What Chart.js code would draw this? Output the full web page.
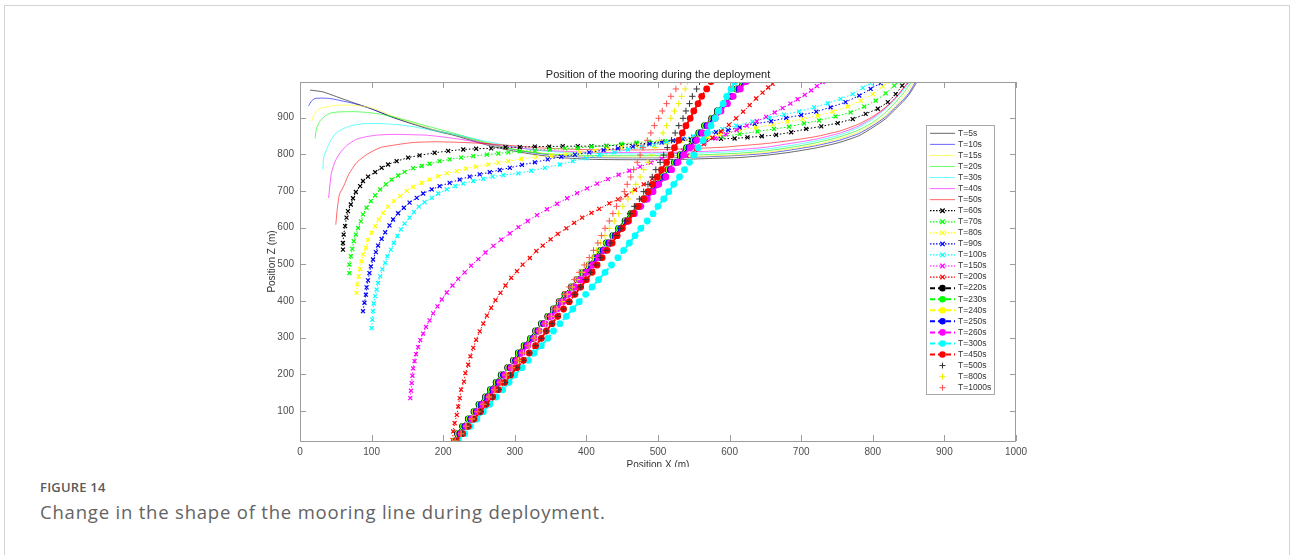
<!DOCTYPE html>
<html>
<head>
<meta charset="utf-8">
<script src="https://cdn.jsdelivr.net/npm/chart.js@4"></script>
<style>
  html, body { margin: 0; padding: 0; background: #fff; overflow: hidden; }
  body { width: 1290px; height: 555px; position: relative; font-family: 'Open Sans', sans-serif; }
  .card { position: absolute; left: 4px; top: 5px; width: 1284px; height: 600px; border: 1px solid #d4d4d4; border-bottom: none; }
  .plot { position: absolute; left: 0; top: 0; width: 1290px; height: 467px; overflow: hidden; }
  .fig { position: absolute; left: 40px; top: 478px; font-size: 13px; font-weight: 600; color: #5b5b5b; letter-spacing: 0.2px; }
  .cap { position: absolute; left: 40px; top: 499px; font-size: 18.5px; color: #636363; letter-spacing: 0.8px; }
</style>
</head>
<body>
<div class="card"></div>
<div class="plot"><canvas id="mooringChart" width="1290" height="480"></canvas></div>
<div class="fig">FIGURE 14</div>
<div class="cap">Change in the shape of the mooring line during deployment.</div>
<script>
// positions X (m) / Z (m), one pair of arrays per time step

// thin solid lines, T=5s..50s
const t5X = [14,32,51,74,98,130,158,186,214,242,269,298,325,363,409,470,534,581,614,650,683,720,753,780,800,818,832,843,851,857,862];
const t5Z = [975,970,957,941,925,900,882,865,852,836,821,809,800,791,786,785,786,789,791,797,805,817,832,850,873,897,924,945,964,982,999];
const t10X = [12,16,21,32,42,55,74,98,130,158,186,214,242,269,298,325,363,409,470,534,581,614,650,683,720,753,780,800,818,832,843,851,856,860];
const t10Z = [932,945,952,953,952,947,939,925,901,883,867,854,839,825,813,804,796,791,790,791,794,797,802,811,823,838,856,878,902,929,950,968,985,999];
const t15X = [16,19,23,30,37,48,60,72,84,98,112,130,158,186,214,242,269,298,325,363,409,470,534,581,614,650,683,720,753,780,800,818,831,841,849,854,858];
const t15Z = [888,905,918,926,929,933,934,934,932,927,918,903,884,867,854,840,826,814,806,798,793,792,793,796,799,805,814,826,842,860,882,906,931,953,972,988,999];
const t20X = [21,23,28,35,42,52,65,78,93,110,130,150,175,200,228,256,283,311,340,380,420,470,534,581,614,650,683,720,753,780,800,816,829,839,847,852,856];
const t20Z = [843,870,891,904,912,915,916,916,914,910,902,892,878,865,850,834,820,809,802,798,796,796,797,800,803,809,818,831,847,866,887,911,936,958,977,992,999];
const t30X = [32,33,37,43,51,62,74,88,102,120,139,158,177,200,228,256,283,311,340,380,420,470,534,581,614,650,683,720,753,778,798,814,827,837,845,850,854];
const t30Z = [759,790,813,838,859,871,879,883,884,883,880,875,868,860,849,837,826,816,809,804,802,801,802,805,808,814,823,836,852,871,893,917,941,963,981,993,999];
const t40X = [40,42,44,49,56,66,79,93,107,125,144,160,177,200,223,250,280,311,340,380,420,470,534,581,614,650,683,720,753,778,798,814,827,837,845,852];
const t40Z = [681,720,750,780,804,825,841,848,852,854,854,853,852,847,841,832,823,816,811,807,805,805,806,809,813,819,829,841,857,875,897,920,944,966,985,999];
const t50X = [50,52,55,61,68,79,93,112,135,158,190,228,260,293,339,390,440,490,540,590,614,650,683,720,753,780,800,816,829,838,845,850];
const t50Z = [608,650,690,713,745,777,799,818,826,832,834,832,829,824,817,813,812,812,815,819,823,829,837,848,863,882,903,925,948,968,986,999];

// dotted lines with x markers, T=60s..200s
const t60X = [60,60,61,63,65,67,71,74,78,84,88,95,105,114,123,135,151,167,188,207,228,246,267,287,307,328,348,367,388,407,428,449,470,488,507,525,546,567,588,607,625,645,665,686,707,728,751,772,790,807,821,832,841,846];
const t60Z = [540,558,581,604,627,645,663,680,697,713,727,739,751,763,772,781,791,797,804,809,813,815,816,819,819,821,821,822,822,822,823,825,828,830,834,837,839,840,842,843,846,849,853,860,869,876,885,896,910,924,942,964,987,999];
const t70X = [69,69,71,73,75,78,81,85,88,93,99,105,112,120,128,137,146,158,170,181,195,209,225,242,261,277,291,307,328,349,370,388,407,428,449,470,488,510,530,550,567,590,614,639,662,683,704,725,748,769,788,804,818,830,837];
const t70Z = [476,499,522,542,563,581,599,617,636,654,672,688,704,718,731,742,752,762,768,774,781,786,791,795,799,802,805,808,810,813,816,817,821,823,828,832,834,836,838,840,842,848,855,862,869,875,884,892,903,914,930,946,966,987,999];
const t80X = [79,80,82,84,86,88,92,95,100,105,110,116,123,131,140,149,158,170,181,193,205,219,232,246,263,277,291,309,330,351,372,391,412,430,449,470,488,510,532,553,570,586,614,637,660,681,702,723,744,765,783,800,814,824];
const t80Z = [422,445,467,487,508,527,545,566,586,604,622,640,657,672,686,700,711,722,731,740,748,754,761,766,772,777,781,787,792,796,801,805,810,814,819,823,828,831,836,841,847,855,866,873,881,889,896,905,916,930,946,964,985,999];
const t90X = [88,90,92,93,95,97,99,102,106,109,114,119,125,130,137,145,153,163,172,184,195,209,223,237,251,265,279,293,310,328,346,365,384,404,424,444,465,488,505,521,535,549,565,581,598,614,635,658,679,700,721,741,762,781,797,811,816];
const t90Z = [372,395,417,437,456,476,494,513,533,551,569,587,606,622,639,654,668,681,693,704,713,722,731,739,745,751,757,763,771,778,786,793,799,805,811,816,821,828,832,837,842,848,854,860,866,873,883,890,899,907,916,928,942,960,978,994,1001];
const t100X = [100,101,102,103,105,107,109,112,115,119,122,127,131,136,141,146,153,159,166,174,184,193,205,217,228,242,256,269,284,305,323,342,363,381,400,418,439,458,477,495,512,530,549,567,590,609,632,656,676,697,718,737,755,772,786,797,802];
const t100Z = [326,349,372,393,413,431,449,467,486,504,522,540,558,577,595,611,627,642,657,669,681,693,704,713,720,727,733,739,743,748,755,763,772,781,789,798,805,813,819,825,833,841,849,857,869,878,889,899,908,917,928,939,951,964,981,994,1001];
const t150X = [154,155,156,157,158,160,162,165,168,172,176,181,186,192,198,205,213,221,230,239,249,259,270,281,293,305,318,331,345,359,373,387,401,415,430,445,460,475,490,505,520,535,550,565,580,595,610,624,638,651,663,674,685,695,705,714,722,730];
const t150Z = [135,155,176,196,216,236,255,274,293,311,329,347,366,385,404,423,442,460,478,496,514,532,550,567,584,601,618,634,650,665,680,694,707,720,732,744,755,766,777,788,799,810,821,832,843,854,866,878,890,902,914,926,938,950,962,974,986,997];
const t200X = [213,214,216,219,221,223,225,229,231,235,238,242,246,251,256,261,267,273,280,287,295,303,311,321,330,339,350,360,372,383,394,407,418,432,444,456,468,480,492,504,516,528,540,552,564,576,588,599,609,619,628,637,646,654,660,665];
const t200Z = [21,44,67,89,112,135,158,180,203,226,249,272,294,317,338,360,381,402,422,442,463,481,499,517,536,551,568,583,598,613,627,640,651,666,677,688,703,718,733,748,764,780,796,812,828,845,862,880,898,916,934,952,968,982,992,1000];

// dashed lines with circles and the + series share these depth levels
const zDiag = [18,38,58,78,98,118,138,158,178,198,218,238,258,278,298,318,338,358,378,398,418,438,458,478,498,518,538,558,578,598,618,638,658,678,698,718,738,758,778,798,818,838,858,878,898,918,938,958,978,998];
const t220X = [217,220,227,235,243,250,259,266,274,281,290,298,305,313,322,329,337,346,354,362,370,379,387,395,404,412,420,428,437,445,454,462,471,480,488,496,506,514,523,531,540,549,557,565,575,583,592,600,610,618];
const t230X = [217,221,228,236,244,251,260,267,275,282,291,299,306,314,323,330,338,347,355,363,371,380,388,396,405,413,421,429,438,446,455,463,472,481,489,497,507,515,524,532,541,550,558,566,576,584,593,601,611,619];
const t240X = [217,222,229,237,245,252,261,268,276,283,292,300,307,315,324,331,339,348,356,364,372,381,389,397,406,414,422,430,439,447,456,464,473,482,490,498,508,516,525,533,542,551,559,567,577,585,594,602,612,620];
const t250X = [218,223,230,238,246,253,262,269,277,284,293,301,308,316,325,332,340,349,357,365,373,382,390,398,407,415,423,431,440,448,457,465,474,483,491,499,509,517,526,534,543,552,560,568,578,586,595,603,613,621];
const t260X = [218,225,232,240,248,255,264,271,279,286,295,303,310,318,327,334,342,351,359,367,375,384,392,400,409,417,425,433,442,450,459,467,476,485,493,501,511,519,528,536,545,554,562,570,580,588,597,605,615,623];
const t300X = [221,230,238,247,256,265,274,283,292,300,310,319,327,337,346,354,363,372,381,390,399,408,417,426,435,444,452,460,468,476,485,493,500,508,515,522,530,537,544,550,556,563,569,574,580,585,591,596,602,607];
const t450X = [218,227,235,243,252,260,269,277,286,294,303,312,320,329,337,344,352,360,368,376,384,392,400,408,415,422,429,436,443,450,458,465,472,480,486,492,499,505,512,518,523,529,534,539,545,550,556,561,568,574];
const t500X = [218,227,235,243,252,260,269,277,286,294,303,312,320,329,337,344,352,360,368,376,384,392,399,406,413,420,427,434,441,448,455,461,467,474,480,486,492,497,503,508,513,519,524,529,535,539,544,548,554,558];
const t800X = [217,225,232,240,248,256,264,272,280,288,296,305,312,320,328,335,343,351,359,366,373,380,387,394,401,408,414,420,426,432,439,445,451,458,464,469,475,480,486,491,496,502,507,512,518,523,529,533,538,541];
const t1000X = [217,225,232,240,248,256,264,272,280,287,295,303,310,318,326,333,341,348,355,362,369,376,383,390,397,404,410,416,421,426,432,437,442,448,453,457,462,466,471,475,479,485,490,495,501,506,512,518,525,532];

const xTicks = [0, 1000, 100];
const zRange = [18, 997];

// MATLAB colour letters
const K = '#000000', B = '#0000ff', Y = '#ffff00', G = '#00ff00', C = '#00ffff', M = '#ff00ff', R = '#ff0000';

const series = [
  {label: 'T=5s', kind: 'thin', color: K, x: t5X, z: t5Z},
  {label: 'T=10s', kind: 'thin', color: B, x: t10X, z: t10Z},
  {label: 'T=15s', kind: 'thin', color: Y, x: t15X, z: t15Z},
  {label: 'T=20s', kind: 'thin', color: G, x: t20X, z: t20Z},
  {label: 'T=30s', kind: 'thin', color: C, x: t30X, z: t30Z},
  {label: 'T=40s', kind: 'thin', color: M, x: t40X, z: t40Z},
  {label: 'T=50s', kind: 'thin', color: R, x: t50X, z: t50Z},
  {label: 'T=60s', kind: 'dotx', color: K, x: t60X, z: t60Z},
  {label: 'T=70s', kind: 'dotx', color: G, x: t70X, z: t70Z},
  {label: 'T=80s', kind: 'dotx', color: Y, x: t80X, z: t80Z},
  {label: 'T=90s', kind: 'dotx', color: B, x: t90X, z: t90Z},
  {label: 'T=100s', kind: 'dotx', color: C, x: t100X, z: t100Z},
  {label: 'T=150s', kind: 'dotx', color: M, x: t150X, z: t150Z},
  {label: 'T=200s', kind: 'dotx', color: R, x: t200X, z: t200Z},
  {label: 'T=220s', kind: 'dasho', color: K, x: t220X, z: zDiag},
  {label: 'T=230s', kind: 'dasho', color: G, x: t230X, z: zDiag},
  {label: 'T=240s', kind: 'dasho', color: Y, x: t240X, z: zDiag},
  {label: 'T=250s', kind: 'dasho', color: B, x: t250X, z: zDiag},
  {label: 'T=260s', kind: 'dasho', color: M, x: t260X, z: zDiag},
  {label: 'T=300s', kind: 'dasho', color: C, x: t300X, z: zDiag},
  {label: 'T=450s', kind: 'dasho', color: R, x: t450X, z: zDiag},
  {label: 'T=500s', kind: 'plus', color: '#333333', x: t500X, z: zDiag},
  {label: 'T=800s', kind: 'plus', color: '#eeee00', x: t800X, z: zDiag},
  {label: 'T=1000s', kind: 'plus', color: '#ff5050', x: t1000X, z: zDiag}
];

function fade(hex, a) {
  const n = parseInt(hex.slice(1), 16);
  return 'rgba(' + (n >> 16) + ',' + ((n >> 8) & 255) + ',' + (n & 255) + ',' + a + ')';
}

function makeDataset(s, i) {
  const ds = {
    label: s.label,
    data: s.x.map((x, j) => ({x: x, y: s.z[j]})),
    order: 100 - i,          // later curves on top, like MATLAB
    clip: 0,
    fill: false,
    showLine: true
  };
  if (s.kind === 'thin') {
    Object.assign(ds, {borderColor: fade(s.color, 0.6), borderWidth: 1, pointRadius: 0, tension: 0.2});
  } else if (s.kind === 'dotx') {
    Object.assign(ds, {borderColor: s.color, borderWidth: 1, borderDash: [1.5, 2],
      pointStyle: 'crossRot', pointRadius: 2.8, pointBorderColor: s.color, pointBorderWidth: 1.2});
  } else if (s.kind === 'dasho') {
    Object.assign(ds, {borderColor: s.color, borderWidth: 2, borderDash: [5, 3],
      pointStyle: 'circle', pointRadius: 3.4, pointBorderWidth: 0,
      pointBackgroundColor: s.color, pointBorderColor: s.color});
  } else {
    Object.assign(ds, {showLine: false, pointStyle: 'cross', pointRadius: 3.2,
      pointBorderColor: s.color, pointBorderWidth: 1});
  }
  return ds;
}

const FONT = "'Liberation Sans', Arial, sans-serif";

function drawMarker(ctx, kind, color, x, y) {
  ctx.strokeStyle = color;
  ctx.fillStyle = color;
  ctx.setLineDash([]);
  if (kind === 'dotx') {
    const r = 2.2;
    ctx.lineWidth = 1.3;
    ctx.beginPath();
    ctx.moveTo(x - r, y - r); ctx.lineTo(x + r, y + r);
    ctx.moveTo(x - r, y + r); ctx.lineTo(x + r, y - r);
    ctx.stroke();
  } else if (kind === 'dasho') {
    ctx.beginPath();
    ctx.arc(x, y, 3.3, 0, Math.PI * 2);
    ctx.fill();
  } else if (kind === 'plus') {
    ctx.lineWidth = 1;
    ctx.beginPath();
    ctx.moveTo(x - 3, y); ctx.lineTo(x + 3, y);
    ctx.moveTo(x, y - 3); ctx.lineTo(x, y + 3);
    ctx.stroke();
  }
}

// axes box with inward ticks, title and legend, as MATLAB draws them
const matlabFrame = {
  id: 'matlabFrame',
  afterDraw(chart) {
    const {ctx, chartArea: a, scales} = chart;
    ctx.save();
    ctx.strokeStyle = '#9c9c9c';
    ctx.lineWidth = 1;
    ctx.setLineDash([]);
    ctx.strokeRect(a.left + 0.5, a.top + 0.5, a.right - a.left - 1, a.bottom - a.top);
    ctx.beginPath();
    scales.x.ticks.forEach(t => {
      const px = Math.round(scales.x.getPixelForValue(t.value)) + 0.5;
      ctx.moveTo(px, a.bottom); ctx.lineTo(px, a.bottom - 6);
      ctx.moveTo(px, a.top); ctx.lineTo(px, a.top + 6);
    });
    scales.y.ticks.forEach(t => {
      const py = Math.round(scales.y.getPixelForValue(t.value)) + 0.5;
      ctx.moveTo(a.left, py); ctx.lineTo(a.left + 6, py);
      ctx.moveTo(a.right, py); ctx.lineTo(a.right - 6, py);
    });
    ctx.stroke();

    ctx.fillStyle = '#222';
    ctx.font = '11px ' + FONT;
    ctx.textAlign = 'center';
    ctx.textBaseline = 'bottom';
    ctx.fillText('Position of the mooring during the deployment', (a.left + a.right) / 2, a.top - 2);

    // legend
    const lx = 926, ly = 125, lw = 68, lh = 269, step = 11.06, first = 133.3;
    ctx.fillStyle = '#fff';
    ctx.fillRect(lx, ly, lw, lh);
    ctx.strokeStyle = '#a8a8a8';
    ctx.strokeRect(lx + 0.5, ly + 0.5, lw, lh);
    ctx.font = '8.5px ' + FONT;
    ctx.textAlign = 'left';
    ctx.textBaseline = 'middle';
    series.forEach((s, i) => {
      const y = first + i * step;
      const x0 = 930, x1 = 955, xm = 942.5;
      if (s.kind !== 'plus') {
        ctx.beginPath();
        if (s.kind === 'thin') { ctx.strokeStyle = fade(s.color, 0.6); ctx.lineWidth = 1; ctx.setLineDash([]); }
        if (s.kind === 'dotx') { ctx.strokeStyle = s.color; ctx.lineWidth = 1.2; ctx.setLineDash([1.5, 1.5]); }
        if (s.kind === 'dasho') { ctx.strokeStyle = s.color; ctx.lineWidth = 2; ctx.setLineDash([5, 3]); }
        ctx.moveTo(x0, y); ctx.lineTo(x1, y);
        ctx.stroke();
      }
      drawMarker(ctx, s.kind, s.color, xm, y);
      ctx.fillStyle = '#333';
      ctx.fillText(s.label, 958, y);
    });
    ctx.restore();
  }
};

const tickFont = {family: FONT, size: 10};

const ctx = document.getElementById('mooringChart').getContext('2d');
const mooringChart = new Chart(ctx, {
  type: 'scatter',
  data: {datasets: series.map(makeDataset)},
  options: {
    responsive: false,
    animation: false,
    events: [],
    layout: {padding: {left: 262, right: 274, top: 82, bottom: 5}},
    plugins: {legend: {display: false}, tooltip: {enabled: false}, title: {display: false}},
    scales: {
      x: {
        type: 'linear', min: xTicks[0], max: xTicks[1],
        ticks: {stepSize: xTicks[2], padding: 5, color: '#4d4d4d', font: tickFont, callback: v => String(v)},
        grid: {display: false, drawTicks: false},
        border: {display: false},
        title: {display: true, text: 'Position X (m)', color: '#333', font: tickFont, padding: {top: 4, bottom: 4}},
        afterFit: s => { s.height = 34; }
      },
      y: {
        type: 'linear', min: zRange[0], max: zRange[1],
        ticks: {stepSize: 100, includeBounds: false, padding: 6, color: '#4d4d4d', font: tickFont, callback: v => String(v)},
        grid: {display: false, drawTicks: false},
        border: {display: false},
        title: {display: true, text: 'Position Z (m)', color: '#333', font: tickFont, padding: {top: 4, bottom: 4}},
        afterFit: s => { s.width = 38; }
      }
    }
  },
  plugins: [matlabFrame]
});
</script>
</body>
</html>
